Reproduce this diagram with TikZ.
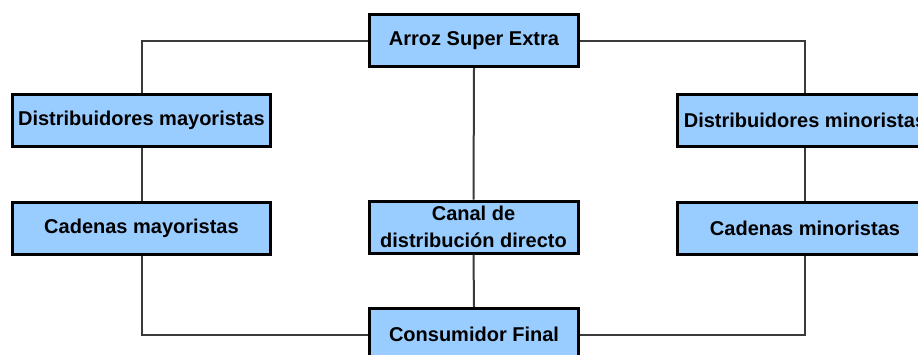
\documentclass[tikz,border=0pt]{standalone}
\usepackage{fontspec}
\setmainfont{Liberation Sans}
\definecolor{boxfill}{HTML}{99CCFF}
\definecolor{linkgray}{HTML}{3A3A3A}
\begin{document}
\begin{tikzpicture}[x=1pt,y=-1pt,
  stage/.style={draw=black,line width=3pt,fill=boxfill,inner sep=0pt,
    minimum height=52pt,align=center,
    font=\fontsize{20}{27}\selectfont\bfseries},
  link/.style={draw=linkgray,line width=2pt}]
\useasboundingbox (0,0) rectangle (918,354);
\clip (0,0) rectangle (918,354);
% producer at the top
\node[stage,minimum width=209pt] (arroz) at (474,40.5) {Arroz Super Extra};
% wholesale branch
\node[stage,minimum width=258pt] (dmay) at (141.5,120.5) {Distribuidores mayoristas};
\node[stage,minimum width=258pt] (cmay) at (141.5,228) {Cadenas mayoristas};
% retail branch
\node[stage,minimum width=255pt] (dmin) at (805,120.5) {Distribuidores minoristas};
\node[stage,minimum width=255pt] (cmin) at (805,228) {Cadenas minoristas};
% direct channel
\node[stage,minimum width=209pt] (canal) at (473.5,227) {Canal de\\distribución directo};
\node[stage,minimum width=209pt] (final) at (474,334.5) {Consumidor Final};
% connectors
\draw[link] (arroz.west) -| (dmay.north);
\draw[link] (arroz.east) -| (dmin.north);
\draw[link] (dmay.south) -- (cmay.north);
\draw[link] (dmin.south) -- (cmin.north);
\draw[link] (arroz.south) -- (canal.north);
\draw[link] (canal.south) -- (final.north);
\draw[link] (cmay.south) |- (final.west);
\draw[link] (cmin.south) |- (final.east);
\end{tikzpicture}
\end{document}
